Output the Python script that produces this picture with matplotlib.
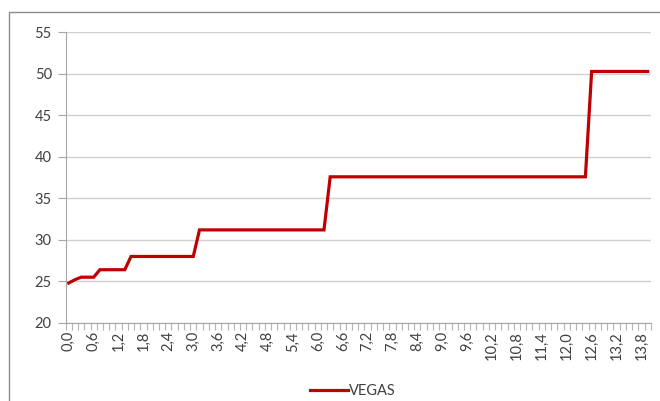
import numpy as np
import matplotlib
matplotlib.use("Agg")
import matplotlib.pyplot as plt
from matplotlib.patches import Rectangle

# category axis: 0,00 ... 13,95 in steps of 0,15
step = 0.15
categories = [round(i * step, 2) for i in range(94)]
label_step = 4

# breakpoints of the VEGAS series (x category, y value)
vegas_x = [0.0, 0.15, 0.3, 0.6, 0.75, 1.35, 1.5, 3.0, 3.15, 6.15, 6.3, 12.45, 12.6, 13.95]
vegas_y = [24.8, 25.2, 25.5, 25.5, 26.4, 26.4, 28.0, 28.0, 31.2, 31.2, 37.6, 37.6, 50.3, 50.3]

y_ticks = [20, 25, 30, 35, 40, 45, 50, 55]

plt.rcParams["font.family"] = ["Lato", "DejaVu Sans"]

fig = plt.figure(figsize=(6.6, 4.01), dpi=100)
ax = fig.add_axes([0.0995, 0.195, 0.8865, 0.724])

ax.plot(vegas_x, vegas_y, color="#C00000", linewidth=2.3, label="VEGAS",
        solid_joinstyle="miter")

ax.set_ylim(20, 55)
ax.set_yticks(y_ticks)
ax.set_xlim(categories[0] - step / 2, categories[-1] + step / 2)

labels = categories[::label_step]
ax.set_xticks(labels)
ax.set_xticklabels([f"{v:.1f}".replace(".", ",") for v in labels], rotation=90)
ax.set_xticks([c - step / 2 for c in categories] + [categories[-1] + step / 2], minor=True)
ax.tick_params(axis="x", which="major", length=0, pad=6)
ax.tick_params(axis="x", which="minor", length=5, color="#B4B4B4", width=0.8)
ax.tick_params(axis="y", length=6, color="#A6A6A6", width=0.8, pad=4)
ax.tick_params(labelsize=10.5, labelcolor="#404040")

ax.grid(axis="y", color="#D0D0D0", linewidth=1)
ax.set_axisbelow(True)
for side in ["top", "right"]:
    ax.spines[side].set_visible(False)
for side in ["left", "bottom"]:
    ax.spines[side].set_color("#A6A6A6")
    ax.spines[side].set_linewidth(0.8)

leg = fig.legend(loc="center", bbox_to_anchor=(0.535, 0.025), frameon=False,
                 fontsize=10.5, handlelength=2.6, handletextpad=0.1)
for t in leg.get_texts():
    t.set_color("#404040")

# outer chart frame
fig.patches.append(Rectangle((9 / 660, -0.1), 1.0, 1 - 12 / 401 + 0.1,
                             transform=fig.transFigure, fill=False,
                             edgecolor="#8C8C8C", linewidth=1))

fig.savefig("out.png", dpi=100)
